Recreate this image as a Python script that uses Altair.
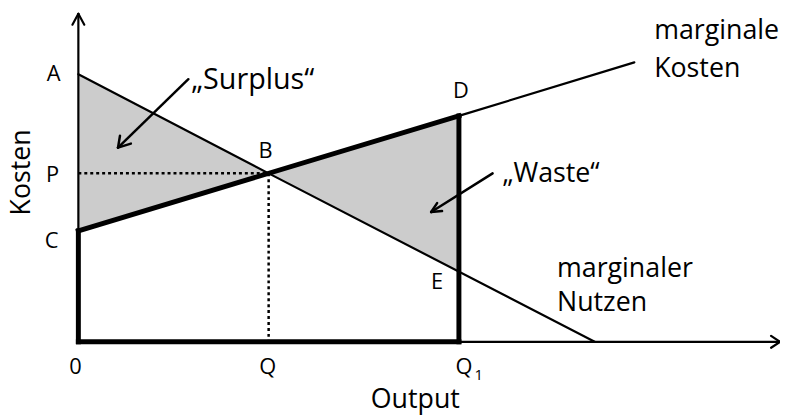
import altair as alt
import pandas as pd

# Key points of the diagram (output, cost)
A = (0, 270)
C = (0, 112)
B = (192, 170)
D = (384, 228)
E = (384, 71)
MC_END = (561, 282)
MB_END = (521, 0)
X_MAX = 708
Y_MAX = 331

# thin segments: x, y, x2, y2 (axes with arrow arms, curves, marginal lines)
thin_x1 = [0, 0, D[0], B[0], 0, 0, X_MAX, X_MAX, 0]
thin_y1 = [0, 0, D[1], B[1], Y_MAX, Y_MAX, 0, 0, A[1]]
thin_x2 = [0, X_MAX, MC_END[0], MB_END[0], -6, 6, X_MAX - 9, X_MAX - 9, B[0]]
thin_y2 = [Y_MAX, 0, MC_END[1], MB_END[1], Y_MAX - 11, Y_MAX - 11, 6, -6, B[1]]

# thick segments
thick_x1 = [0, 0, D[0], C[0]]
thick_y1 = [C[1], 0, 0, C[1]]
thick_x2 = [0, D[0], D[0], D[0]]
thick_y2 = [0, 0, D[1], D[1]]

# dotted guides
dot_x1 = [0, B[0]]
dot_y1 = [B[1], B[1]]
dot_x2 = [B[0], B[0]]
dot_y2 = [B[1], 0]

# annotation arrows (shaft + two arms)
arr_x1 = [111, 40, 40, 418, 356, 356]
arr_y1 = [265, 196, 196, 170, 131, 131]
arr_x2 = [40, 42, 53, 356, 362, 367]
arr_y2 = [196, 208, 200, 131, 140, 132]

# shaded triangles
tri_x = [0, B[0], B[0], D[0]]
tri_lo = [C[1], B[1], B[1], E[1]]
tri_hi = [A[1], B[1], B[1], D[1]]
tri_g = ["surplus", "surplus", "waste", "waste"]

# point labels (centered)
pt_text = ["A", "P", "C", "0", "Q", "Q", "B", "D", "E"]
pt_x = [-25, -26, -27, -3, 191, 389, 189, 386, 362]
pt_y = [263, 161, 95, -32, -32, -32, 185, 246, 53]

# subscript of Q1
sub_text = ["1"]
sub_x = [404]
sub_y = [-39]

# annotation texts (left aligned)
ann_text = ["„Surplus“", "„Waste“", "marginale", "Kosten", "marginaler", "Nutzen"]
ann_x = [114, 428, 581, 581, 483, 483]
ann_y = [255, 161, 306, 267, 65, 31]
ann_size = [29, 27, 27, 27, 27, 27]

# axis titles
xt_text = ["Output"]
xt_x = [340]
xt_y = [-67]
yt_text = ["Kosten"]
yt_x = [-49]
yt_y = [171]

x_sc = alt.Scale(domain=[0, X_MAX], nice=False, zero=False)
y_sc = alt.Scale(domain=[0, Y_MAX], nice=False, zero=False)
X = lambda f: alt.X(f, type="quantitative", scale=x_sc, axis=None)
Y = lambda f: alt.Y(f, type="quantitative", scale=y_sc, axis=None)


def segs(x1, y1, x2, y2):
    return pd.DataFrame({"x": x1, "y": y1, "x2": x2, "y2": y2})


def texts(t, x, y):
    return pd.DataFrame({"t": t, "x": x, "y": y})


tri = alt.Chart(pd.DataFrame({"x": tri_x, "lo": tri_lo, "hi": tri_hi, "g": tri_g})).mark_area(
    color="#cccccc", opacity=1
).encode(x=X("x"), y=Y("lo"), y2="hi", detail="g:N")

thin = alt.Chart(segs(thin_x1, thin_y1, thin_x2, thin_y2)).mark_rule(
    color="black", strokeWidth=2.2, strokeCap="round"
).encode(x=X("x"), y=Y("y"), x2="x2", y2="y2")

thick = alt.Chart(segs(thick_x1, thick_y1, thick_x2, thick_y2)).mark_rule(
    color="black", strokeWidth=5, strokeCap="square"
).encode(x=X("x"), y=Y("y"), x2="x2", y2="y2")

dotted = alt.Chart(segs(dot_x1, dot_y1, dot_x2, dot_y2)).mark_rule(
    color="black", strokeWidth=2.5, strokeDash=[3, 3]
).encode(x=X("x"), y=Y("y"), x2="x2", y2="y2")

arrows = alt.Chart(segs(arr_x1, arr_y1, arr_x2, arr_y2)).mark_rule(
    color="black", strokeWidth=2.5, strokeCap="round"
).encode(x=X("x"), y=Y("y"), x2="x2", y2="y2")

FONT = "Open Sans"
pts = alt.Chart(texts(pt_text, pt_x, pt_y)).mark_text(
    font=FONT, fontSize=22, align="center", baseline="alphabetic", color="black"
).encode(x=X("x"), y=Y("y"), text="t:N")

sub = alt.Chart(texts(sub_text, sub_x, sub_y)).mark_text(
    font=FONT, fontSize=15, align="center", baseline="alphabetic", color="black"
).encode(x=X("x"), y=Y("y"), text="t:N")

ann_df = texts(ann_text, ann_x, ann_y)
ann_df["s"] = ann_size
ann = alt.Chart(ann_df).mark_text(
    font=FONT, align="left", baseline="alphabetic", color="black"
).encode(x=X("x"), y=Y("y"), text="t:N", size=alt.Size("s:Q", scale=None, legend=None))

xt = alt.Chart(texts(xt_text, xt_x, xt_y)).mark_text(
    font=FONT, fontSize=27, align="center", baseline="alphabetic", color="black"
).encode(x=X("x"), y=Y("y"), text="t:N")

yt = alt.Chart(texts(yt_text, yt_x, yt_y)).mark_text(
    font=FONT, fontSize=27, align="center", baseline="alphabetic", angle=270, color="black"
).encode(x=X("x"), y=Y("y"), text="t:N")

chart = alt.layer(tri, dotted, thin, thick, arrows, pts, sub, ann, xt, yt).properties(
    width=708, height=331,
    autosize=alt.AutoSizeParams(type="none"),
    padding={"left": 71, "top": 4, "right": 0, "bottom": 72},
).configure_view(stroke=None)

chart.save("out.html", embed_options={"renderer": "svg", "actions": False})
